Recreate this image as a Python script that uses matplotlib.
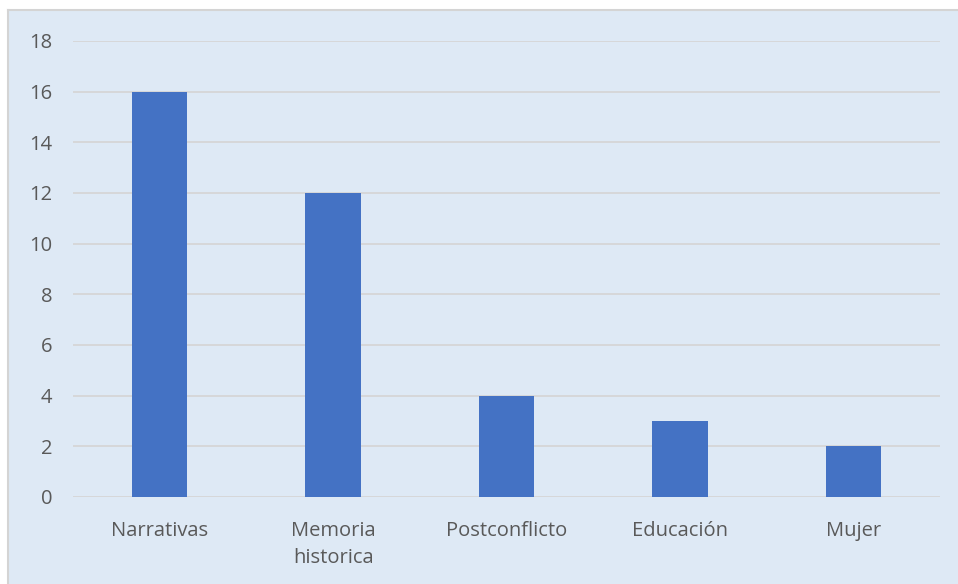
import matplotlib
matplotlib.use("Agg")
import matplotlib.pyplot as plt
from matplotlib.patches import Rectangle
from matplotlib.lines import Line2D

categories = ["Narrativas", "Memoria\nhistorica", "Postconflicto", "Educación", "Mujer"]
values = [16, 12, 4, 3, 2]
yticks = [0, 2, 4, 6, 8, 10, 12, 14, 16, 18]

W, H = 958, 584
fig = plt.figure(figsize=(W / 100, H / 100), dpi=100)
fig.patch.set_facecolor("white")
bg = "#DEE9F5"
fig.patches.append(Rectangle((8 / W, 0), 1 - 8 / W, 1 - 10 / H, transform=fig.transFigure,
                             facecolor=bg, edgecolor="none", zorder=-10))
fig.lines.append(Line2D([8 / W, 8 / W], [0, 1 - 10 / H], transform=fig.transFigure,
                        color="#D4D4D4", linewidth=1.5, zorder=-9))
fig.lines.append(Line2D([8 / W, 1], [1 - 10 / H, 1 - 10 / H], transform=fig.transFigure,
                        color="#D4D4D4", linewidth=1.5, zorder=-9))

ax = fig.add_axes([73 / W, (H - 497) / H, (940 - 73) / W, (497 - 41) / H])
ax.set_zorder(5)
ax.patch.set_alpha(0)
x = range(len(categories))
ax.bar(x, values, width=0.32, color="#4472C4", zorder=3)
ax.set_xlim(-0.5, len(categories) - 0.5)
ax.set_ylim(0, 18)
ax.set_yticks(yticks)
ax.set_xticks(list(x))
ax.set_xticklabels(categories, fontsize=14.5, color="#595959", family="Open Sans", linespacing=1.5)
ax.set_yticklabels([str(t) for t in yticks], fontsize=14.5, color="#595959", family="Open Sans")
ax.grid(axis="y", color="#D6D6D6", linewidth=1.3, zorder=0)
ax.set_axisbelow(True)
for s in ax.spines.values():
    s.set_visible(False)
ax.tick_params(axis="both", length=0)
ax.tick_params(axis="y", pad=15)
ax.tick_params(axis="x", pad=17)

fig.savefig("out.png", dpi=100, facecolor="white")
